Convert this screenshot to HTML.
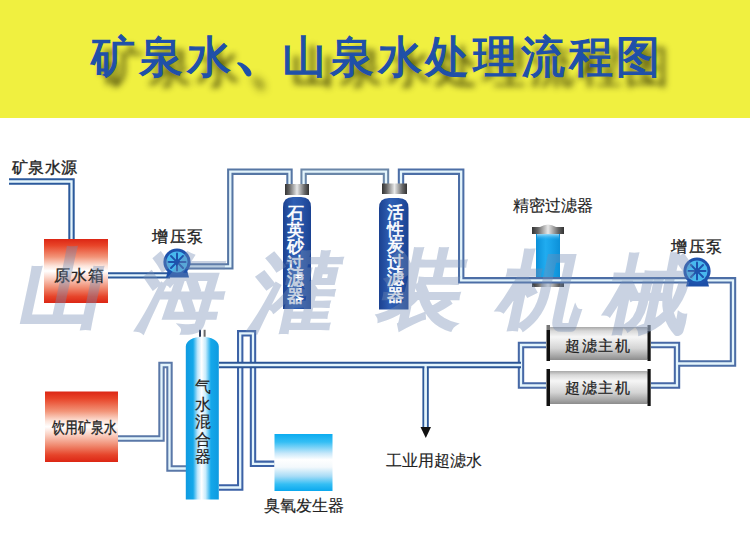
<!DOCTYPE html>
<html><head><meta charset="utf-8">
<style>
html,body{margin:0;padding:0;background:#fff;}
body{width:750px;height:545px;overflow:hidden;position:relative;font-family:"Liberation Sans",sans-serif;}
#hdr{position:absolute;left:0;top:0;width:750px;height:118px;background:#f0f040;}
#title{position:absolute;left:91px;top:27px;font-size:44px;line-height:60px;color:#1f50a8;font-weight:normal;-webkit-text-stroke:1.3px #1f50a8;white-space:nowrap;letter-spacing:3.75px;text-shadow:9px 10px 6px rgba(40,40,0,0.9);}
svg{position:absolute;left:0;top:0;}
.lbl{position:absolute;font-size:16px;line-height:18px;color:#222;white-space:nowrap;-webkit-text-stroke:0.35px #222;}
.vt{position:absolute;font-size:16.5px;line-height:16.5px;width:18px;text-align:center;white-space:normal;word-break:break-all;-webkit-text-stroke:0.6px currentColor;font-weight:normal;}
#wm{position:absolute;left:0;top:0;width:750px;height:545px;pointer-events:none;opacity:0.38;}
.wc{position:absolute;font-size:85px;line-height:100px;color:rgb(115,140,180);font-weight:normal;-webkit-text-stroke:4px rgb(115,140,180);transform:skewX(-12deg);}
</style></head><body>
<div id="hdr"></div>
<div id="title">矿泉水<span style="display:inline-block;transform:translate(4px,-5px) scale(1.4);transform-origin:30% 70%;">、</span>山泉水处理流程图</div>
<svg width="750" height="545" viewBox="0 0 750 545">
<defs>
 <linearGradient id="redv" x1="0" y1="0" x2="0" y2="1">
  <stop offset="0" stop-color="#dc2614"/><stop offset="0.1" stop-color="#e84428"/><stop offset="0.28" stop-color="#f29478"/><stop offset="0.42" stop-color="#fde4da"/><stop offset="0.5" stop-color="#ffffff"/><stop offset="0.6" stop-color="#fbd6ca"/><stop offset="0.76" stop-color="#f08c72"/><stop offset="0.9" stop-color="#e6442a"/><stop offset="1" stop-color="#dc2614"/>
 </linearGradient>
 <linearGradient id="bluev" x1="0" y1="0" x2="0" y2="1">
  <stop offset="0" stop-color="#0cacf0"/><stop offset="0.14" stop-color="#34bef4"/><stop offset="0.34" stop-color="#c8e8fa"/><stop offset="0.45" stop-color="#ffffff"/><stop offset="0.58" stop-color="#f4f9fc"/><stop offset="0.74" stop-color="#a8dcf6"/><stop offset="0.88" stop-color="#34bef4"/><stop offset="1" stop-color="#0aa8ee"/>
 </linearGradient>
 <linearGradient id="mixh" x1="0" y1="0" x2="1" y2="0">
  <stop offset="0" stop-color="#0f9ae0"/><stop offset="0.22" stop-color="#14a8ea"/><stop offset="0.36" stop-color="#bfe6fb"/><stop offset="0.48" stop-color="#ffffff"/><stop offset="0.6" stop-color="#c8ecfc"/><stop offset="0.76" stop-color="#14a8ea"/><stop offset="1" stop-color="#0f9ae0"/>
 </linearGradient>
 <linearGradient id="filt" x1="0" y1="0" x2="1" y2="0">
  <stop offset="0" stop-color="#1b4190"/><stop offset="0.38" stop-color="#2f5fb4"/><stop offset="0.6" stop-color="#2a58ac"/><stop offset="1" stop-color="#1b4292"/>
 </linearGradient>
 <linearGradient id="cap" x1="0" y1="0" x2="1" y2="0">
  <stop offset="0" stop-color="#333"/><stop offset="0.18" stop-color="#666"/><stop offset="0.5" stop-color="#e8e8e8"/><stop offset="0.82" stop-color="#666"/><stop offset="1" stop-color="#333"/>
 </linearGradient>
 <linearGradient id="pf" x1="0" y1="0" x2="1" y2="0">
  <stop offset="0" stop-color="#0c90d8"/><stop offset="0.4" stop-color="#20acf0"/><stop offset="0.6" stop-color="#1aa4ea"/><stop offset="1" stop-color="#0c90d8"/>
 </linearGradient>
 <linearGradient id="pfhl" x1="0" y1="0" x2="0" y2="1">
  <stop offset="0" stop-color="#d8f4ff" stop-opacity="0.9"/><stop offset="1" stop-color="#20acf0" stop-opacity="0"/>
 </linearGradient>
 <linearGradient id="uf" x1="0" y1="0" x2="0" y2="1">
  <stop offset="0" stop-color="#a8a8a8"/><stop offset="0.12" stop-color="#d8d8d8"/><stop offset="0.3" stop-color="#f6f6f6"/><stop offset="0.65" stop-color="#d4d4d4"/><stop offset="0.88" stop-color="#a6a6a6"/><stop offset="1" stop-color="#8c8c8c"/>
 </linearGradient>
</defs>
<!-- precision filter -->
<rect x="536" y="233" width="24" height="49" fill="url(#pf)"/><rect x="537" y="233" width="22" height="7" fill="url(#pfhl)"/>
<path d="M532,234 L532,227 L540,227 Q548,222 556,227 L564,227 L564,234 Z" fill="url(#cap)"/>
<rect x="532" y="281" width="32" height="6" fill="url(#cap)"/>
<!-- pipes: blue then white -->
<g fill="none" stroke-width="6.4" stroke-linejoin="miter">
 <polyline stroke="#2c5a9c" points="9,181.5 71.5,181.5 71.5,239"/>
 <polyline stroke="#2c5a9c" points="108,275.4 170,275.4"/>
 <polyline stroke="#5676a4" points="185,266.4 230.3,266.4 230.3,171.7 289.5,171.7 289.5,185"/>
 <polyline stroke="#6a86a8" points="303.6,185 303.6,171.7 386,171.7 386,185"/>
 <polyline stroke="#4c6ea6" points="401,185 401,171.7 461.2,171.7 461.2,280.3 733,280.3 733,363.5 677,363.5"/>
 <polyline stroke="#4668a6" points="651,345 677,345 677,385.5 651,385.5"/>
 <polyline stroke="#4668a6" points="546,345 521,345 521,385.5 546,385.5"/>
 <polyline stroke="#2e5a9a" points="425.6,365 425.6,428"/>
 <polyline stroke="#5a78a8" points="118,438.5 161.5,438.5 161.5,365 169.5,365 169.5,468.5 186,468.5"/>
 <polyline stroke="#3c62a6" points="219,487.5 240.2,487.5 240.2,333.3 253,333.3 253,463.8 274.5,463.8"/>
</g>
<g fill="none" stroke="#e4f5fc" stroke-width="2.3" stroke-linejoin="miter">
 <polyline points="9,181.5 71.5,181.5 71.5,239"/>
 <polyline points="108,275.4 170,275.4"/>
 <polyline points="185,266.4 230.3,266.4 230.3,171.7 289.5,171.7 289.5,185"/>
 <polyline points="303.6,185 303.6,171.7 386,171.7 386,185"/>
 <polyline points="401,185 401,171.7 461.2,171.7 461.2,280.3 733,280.3 733,363.5 677,363.5"/>
 <polyline points="651,345 677,345 677,385.5 651,385.5"/>
 <polyline points="546,345 521,345 521,385.5 546,385.5"/>
 <polyline points="425.6,365 425.6,428"/>
 <polyline points="118,438.5 161.5,438.5 161.5,365 169.5,365 169.5,468.5 186,468.5"/>
 <polyline points="219,487.5 240.2,487.5 240.2,333.3 253,333.3 253,463.8 274.5,463.8"/>
</g>
<polyline fill="none" stroke="#2a5496" stroke-width="6.4" points="521,365 219,365"/>
<polyline fill="none" stroke="#e4f5fc" stroke-width="2.3" points="521,365 219,365"/>
<polyline fill="none" stroke="#e4f5fc" stroke-width="2.3" points="425.6,365 425.6,428"/>
<!-- arrow -->
<polygon points="420.5,427 431,427 425.8,438" fill="#111"/>
<!-- tanks -->
<rect x="44" y="239" width="64" height="64" fill="url(#redv)"/>
<rect x="45" y="391.5" width="73" height="70.5" fill="url(#redv)"/>
<rect x="274.5" y="434" width="58" height="57" fill="url(#bluev)"/>
<!-- filters -->
<rect x="285" y="184" width="24" height="11" fill="url(#cap)"/>
<path d="M283,309 L283,207 Q283,197 293,197 L301,197 Q311,197 311,207 L311,309 Z" fill="url(#filt)"/>
<rect x="382" y="183.5" width="25" height="10.5" fill="url(#cap)"/>
<path d="M379,309.5 L379,208 Q379,198 389,198 L398.5,198 Q408.5,198 408.5,208 L408.5,309.5 Z" fill="url(#filt)"/>
<!-- mixer -->
<rect x="199" y="329.8" width="2" height="7" fill="#2a3a5a"/><rect x="203.6" y="329.8" width="2" height="7" fill="#6a6a6a"/>
<path d="M185.8,499.5 L185.8,346.5 A16.5,9.8 0 0 1 218.8,346.5 L218.8,499.5 Z" fill="url(#mixh)"/>
<!-- UF units -->
<rect x="549" y="327" width="99" height="33" rx="1.5" fill="url(#uf)"/>
<rect x="546.5" y="325" width="3.5" height="5" fill="#777"/><rect x="546.5" y="330" width="3.5" height="31" fill="#111"/>
<rect x="647.5" y="325" width="3.2" height="6" fill="#666"/><rect x="647.5" y="331" width="3.2" height="30" fill="#111"/>
<rect x="549" y="371" width="99" height="33" rx="1.5" fill="url(#uf)"/>
<rect x="546.5" y="369" width="3.5" height="37" fill="#111"/>
<rect x="647.5" y="369" width="3.2" height="37" fill="#111"/>
<!-- pumps -->
<g transform="translate(177,262)">
 <path d="M-11,15.5 L12,15.5 L10,8 L-9,8 Z" fill="#1c4fa8"/>
 <circle r="13.6" fill="#1e52ac"/>
 <circle r="10.6" fill="#48b8ee"/>
 <g stroke="#1e52ac" stroke-width="2" stroke-linecap="round"><line x1="0" y1="-2" x2="0" y2="-8.5"/><line x1="0" y1="2" x2="0" y2="8.5"/><line x1="-2" y1="0" x2="-8.5" y2="0"/><line x1="2" y1="0" x2="8.5" y2="0"/><line x1="1.4" y1="1.4" x2="6" y2="6"/><line x1="-1.4" y1="-1.4" x2="-6" y2="-6"/><line x1="1.4" y1="-1.4" x2="6" y2="-6"/><line x1="-1.4" y1="1.4" x2="-6" y2="6"/></g>
 <circle r="2.6" fill="#1e52ac"/>
</g>
<g transform="translate(697,271)">
 <path d="M-11,15.5 L12,15.5 L10,8 L-9,8 Z" fill="#1c4fa8"/>
 <circle r="13.6" fill="#1e52ac"/>
 <circle r="10.6" fill="#48b8ee"/>
 <g stroke="#1e52ac" stroke-width="2" stroke-linecap="round"><line x1="0" y1="-2" x2="0" y2="-8.5"/><line x1="0" y1="2" x2="0" y2="8.5"/><line x1="-2" y1="0" x2="-8.5" y2="0"/><line x1="2" y1="0" x2="8.5" y2="0"/><line x1="1.4" y1="1.4" x2="6" y2="6"/><line x1="-1.4" y1="-1.4" x2="-6" y2="-6"/><line x1="1.4" y1="-1.4" x2="6" y2="-6"/><line x1="-1.4" y1="1.4" x2="-6" y2="6"/></g>
 <circle r="2.6" fill="#1e52ac"/>
</g>
</svg>
<div class="lbl" style="left:12px;top:159px;letter-spacing:0.3px;">矿泉水源</div>
<div class="lbl" style="left:54px;top:267px;letter-spacing:0.8px;">原水箱</div>
<div class="lbl" style="left:152px;top:228px;letter-spacing:1.6px;">增压泵</div>
<div class="lbl" style="left:671px;top:238px;letter-spacing:1.6px;">增压泵</div>
<div class="lbl" style="left:513px;top:197px;;-webkit-text-stroke:0.15px #222">精密过滤器</div>
<div class="lbl" style="left:565px;top:337px;font-size:15px;letter-spacing:1.7px;-webkit-text-stroke:0.25px #222;">超滤主机</div>
<div class="lbl" style="left:565px;top:379px;font-size:15px;letter-spacing:1.7px;-webkit-text-stroke:0.25px #222;">超滤主机</div>
<div class="lbl" style="left:386px;top:452px;;-webkit-text-stroke:0.15px #222">工业用超滤水</div>
<div class="lbl" style="left:264px;top:497px;;-webkit-text-stroke:0.15px #222">臭氧发生器</div>
<div class="lbl" style="left:52px;top:419px;font-size:15.5px;transform:scaleX(0.8);transform-origin:0 0;letter-spacing:0.3px;">饮用矿泉水</div>
<div class="vt" style="left:194px;top:378px;color:#222;font-size:16px;line-height:17.6px;-webkit-text-stroke:0.2px #222;">气水混合器</div>
<div class="vt" style="left:286px;top:205px;color:#fff;">石英砂过滤器</div>
<div class="vt" style="left:386px;top:204px;color:#fff;">活性炭过滤器</div>
<div id="wm">
 <div class="wc" style="left:22px;top:239px;">山</div>
 <div class="wc" style="left:141px;top:243px;">海</div>
 <div class="wc" style="left:253px;top:243px;">灌</div>
 <div class="wc" style="left:381px;top:240px;">装</div>
 <div class="wc" style="left:501px;top:241px;">机</div>
 <div class="wc" style="left:608px;top:245px;">械</div>
</div>
</body></html>
